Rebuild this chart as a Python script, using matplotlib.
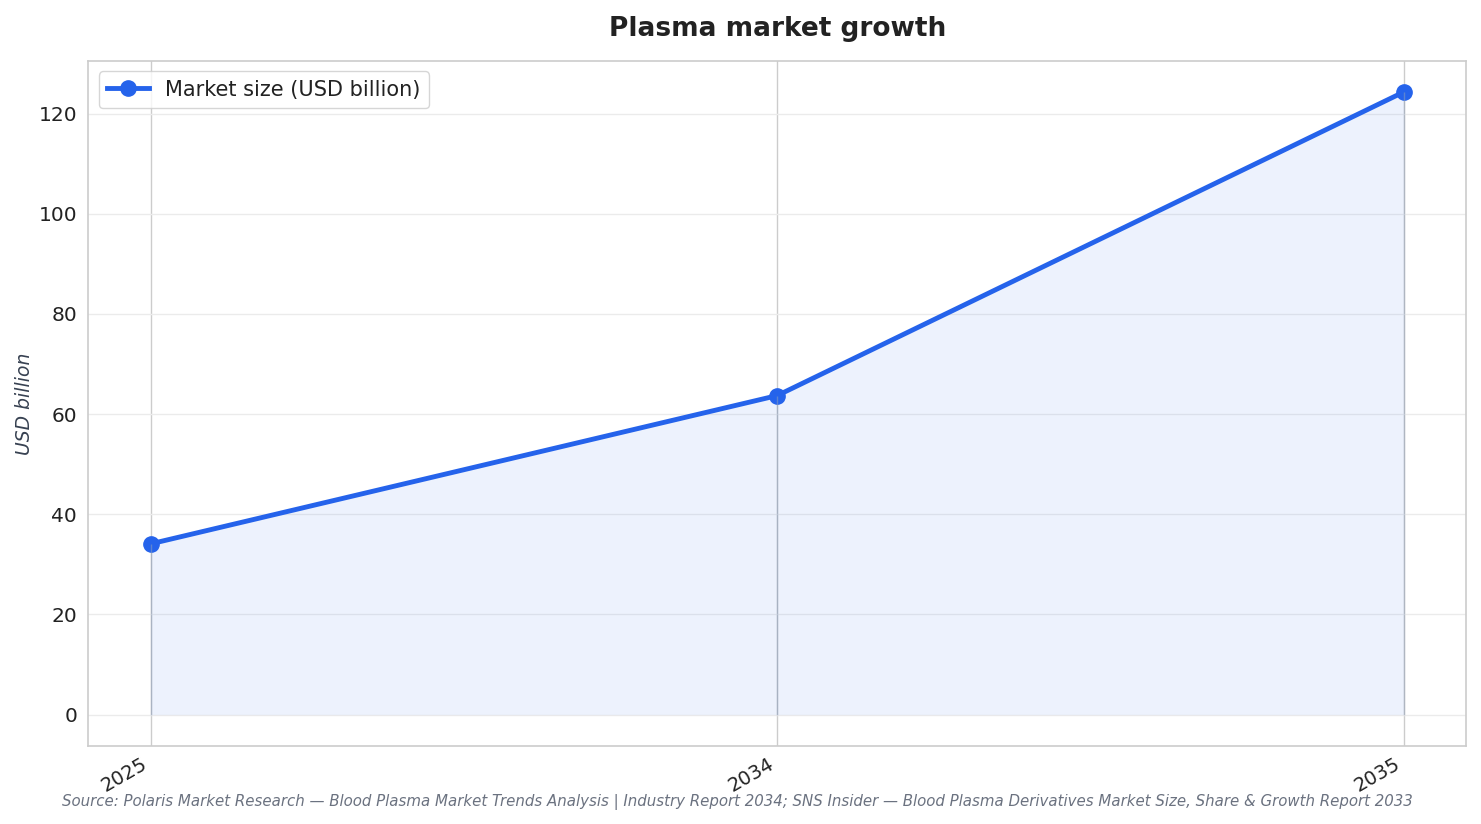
import numpy as np
import matplotlib.pyplot as plt

# chart data
years = ['2025', '2034', '2035']
market_size = [34.1, 63.7, 124.3]

blue = '#2563eb'

fig, ax = plt.subplots(figsize=(14.81, 8.24), dpi=100)
fig.subplots_adjust(left=0.0595, right=0.99, top=0.926, bottom=0.095)

x = np.arange(len(years))
ax.fill_between(x, market_size, 0, color=blue, alpha=0.08, linewidth=0)
ax.plot(x, market_size, color=blue, linewidth=3.5, marker='o', markersize=11,
        label='Market size (USD billion)')

# vertical lines under each point
ax.vlines(x, 0, market_size, color='#94a3b8', linewidth=1.0, alpha=0.5)

ax.set_xticks(x)
ax.set_xticklabels(years, rotation=30, ha='right', fontsize=14, color='#222222')
ax.tick_params(axis='y', labelsize=14.5, colors='#222222', length=0, pad=8)
ax.tick_params(axis='x', length=0, pad=6)
ax.set_xlim(-0.1, 2.1)

ax.grid(axis='x', color='#cccccc', linewidth=1.0)
ax.grid(axis='y', color='#ebebeb', linewidth=1.0)
ax.set_axisbelow(True)
for s in ax.spines.values():
    s.set_color('#cccccc')
    s.set_linewidth(1.2)

ax.set_ylabel('USD billion', fontsize=13.5, style='italic', color='#374151', labelpad=3)
ax.set_title('Plasma market growth', fontsize=19, fontweight='bold', color='#222222', pad=18)

leg = ax.legend(loc='upper left', fontsize=15, frameon=True, fancybox=True)
leg.get_frame().set_edgecolor('#cccccc')
for t in leg.get_texts():
    t.set_color('#222222')

fig.text(0.498, 0.022,
         'Source: Polaris Market Research \u2014 Blood Plasma Market Trends Analysis | Industry Report 2034; '
         'SNS Insider \u2014 Blood Plasma Derivatives Market Size, Share & Growth Report 2033',
         ha='center', fontsize=10.8, style='italic', color='#6b7280')

fig.savefig('out.png', dpi=100)
